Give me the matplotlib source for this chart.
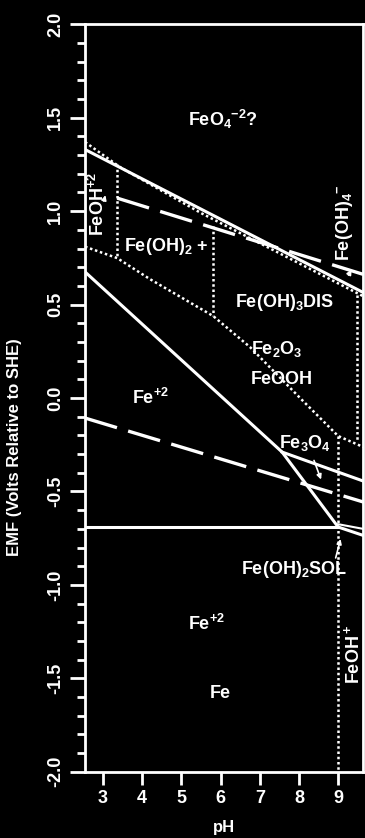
import numpy as np
import matplotlib.pyplot as plt
from matplotlib.ticker import MultipleLocator, FormatStrFormatter

plt.rcParams['font.family'] = ['Liberation Sans', 'DejaVu Sans']
plt.rcParams['font.weight'] = 'bold'
plt.rcParams['axes.unicode_minus'] = False
plt.rcParams['mathtext.fontset'] = 'custom'
plt.rcParams['mathtext.rm'] = 'Liberation Sans:bold'
plt.rcParams['mathtext.it'] = 'Liberation Sans:bold'
plt.rcParams['mathtext.bf'] = 'Liberation Sans:bold'
plt.rcParams['mathtext.default'] = 'rm'

# --- boundary lines (pH, EMF) ---
upper_solid_ph = [2.54, 9.64]
upper_solid_e = [1.33, 0.565]

upper_dot_ph = [2.54, 3.43, 5.5, 9.64]
upper_dot_e = [1.37, 1.236, 0.99, 0.545]

o2_ph = [3.36, 9.64]
o2_e = [1.07, 0.662]

h2_ph = [2.54, 9.64]
h2_e = [-0.107, -0.556]

mid_dot_ph = [2.54, 3.36, 4.20, 5.81, 6.75, 8.03, 9.0, 9.64]
mid_dot_e = [0.81, 0.749, 0.636, 0.439, 0.273, 0.0, -0.203, -0.262]

fe2_solid_ph = [2.54, 7.57, 9.0]
fe2_solid_e = [0.675, -0.289, -0.69]

fe3o4_top_ph = [7.57, 9.64]
fe3o4_top_e = [-0.289, -0.444]

fe_line_ph = [2.54, 9.0]
fe_line_e = [-0.69, -0.69]

fe_right_ph = [9.0, 9.64]
fe_right_e = [-0.69, -0.735]
fe_right2_ph = [9.0, 9.64]
fe_right2_e = [-0.675, -0.70]

# vertical dotted boundaries: pH, E top, E bottom
vert_ph = [3.36, 5.81, 9.48, 9.0]
vert_top = [1.25, 0.92, 0.55, -0.205]
vert_bot = [0.749, 0.439, -0.235, -2.0]

# region labels: text, pH, E, rotation
labels = ["FeO$_4$$^{-2}$?", "FeOH$^{+2}$", "Fe(OH)$_2$ +", "Fe(OH)$_4$$^{-}$",
          "Fe(OH)$_3$DIS", "Fe$_2$O$_3$", "FeOOH", "Fe$^{+2}$", "Fe$_3$O$_4$",
          "Fe(OH)$_2$SOL", "Fe$^{+2}$", "Fe", "FeOH$^+$"]
label_ph = [6.06, 2.87, 4.6, 9.17, 7.62, 7.43, 7.55, 4.2, 8.15, 7.87, 5.65, 5.98, 9.38]
label_e = [1.49, 1.04, 0.81, 0.94, 0.51, 0.26, 0.10, 0.0, -0.24, -0.92, -1.21, -1.58, -1.37]
label_rot = [0, 90, 0, 90, 0, 0, 0, 0, 0, 0, 0, 0, 90]

# small pointer marks: (from pH, from E, to pH, to E)
pointers = [(8.36, -0.32, 8.59, -0.45),
            (8.92, -0.87, 9.08, -0.74),
            (9.23, 0.645, 9.38, 0.70),
            (3.0, 1.04, 3.08, 1.10)]

fig = plt.figure(figsize=(3.65, 8.38), dpi=100, facecolor='black')
ax = fig.add_axes([0.233, 0.079, 0.762, 0.892], facecolor='black')

w = 'white'
dot = (0, (1, 1.1))
dash = (0, (10, 3.5))
ax.plot(upper_solid_ph, upper_solid_e, color=w, lw=2.2)
ax.plot(upper_dot_ph, upper_dot_e, color=w, lw=1.8, ls=dot)
ax.plot(o2_ph, o2_e, color=w, lw=2.4, ls=dash)
ax.plot(h2_ph, h2_e, color=w, lw=2.4, ls=dash)
ax.plot(mid_dot_ph, mid_dot_e, color=w, lw=1.8, ls=dot)
ax.plot(fe2_solid_ph, fe2_solid_e, color=w, lw=2.2)
ax.plot(fe3o4_top_ph, fe3o4_top_e, color=w, lw=2.2)
ax.plot(fe_line_ph, fe_line_e, color=w, lw=2.2)
ax.plot(fe_right_ph, fe_right_e, color=w, lw=2.2)
ax.plot(fe_right2_ph, fe_right2_e, color=w, lw=1.5)
for p, t, b in zip(vert_ph, vert_top, vert_bot):
    ax.plot([p, p], [t, b], color=w, lw=1.8, ls=dot)

for txt, x, y, r in zip(labels, label_ph, label_e, label_rot):
    ax.text(x, y, txt, color=w, fontsize=13, fontweight='bold',
            rotation=r, ha='center', va='center')

for x0, y0, x1, y1 in pointers:
    ax.annotate('', xy=(x1, y1), xytext=(x0, y0),
                arrowprops=dict(arrowstyle='-|>', color=w, lw=1.2,
                                mutation_scale=7))

ax.set_xlim(2.54, 9.64)
ax.set_ylim(-2.0, 2.0)
ax.set_xticks(range(3, 10))
ax.yaxis.set_major_locator(MultipleLocator(0.5))
ax.yaxis.set_minor_locator(MultipleLocator(0.1))
ax.yaxis.set_major_formatter(FormatStrFormatter('%.1f'))

for s in ax.spines.values():
    s.set_color(w)
    s.set_linewidth(2)
ax.tick_params(axis='both', colors=w, width=2, labelsize=13)
ax.tick_params(axis='x', length=9, pad=4)
ax.tick_params(axis='y', which='major', length=11, pad=4)
ax.tick_params(axis='y', which='minor', length=6, width=2, colors=w)
for lab in ax.get_yticklabels():
    lab.set_rotation(90)
    lab.set_va('center')
for lab in ax.get_xticklabels() + ax.get_yticklabels():
    lab.set_fontweight('bold')

ax.set_xlabel("pH", color=w, fontsize=12, fontweight='bold')
ax.xaxis.set_label_coords(0.5, -0.065)
ax.set_ylabel("EMF (Volts Relative to SHE)", color=w, fontsize=12, fontweight='bold')
ax.yaxis.set_label_coords(-0.225, 0.435)

fig.savefig('out.png', dpi=100, facecolor='black')
